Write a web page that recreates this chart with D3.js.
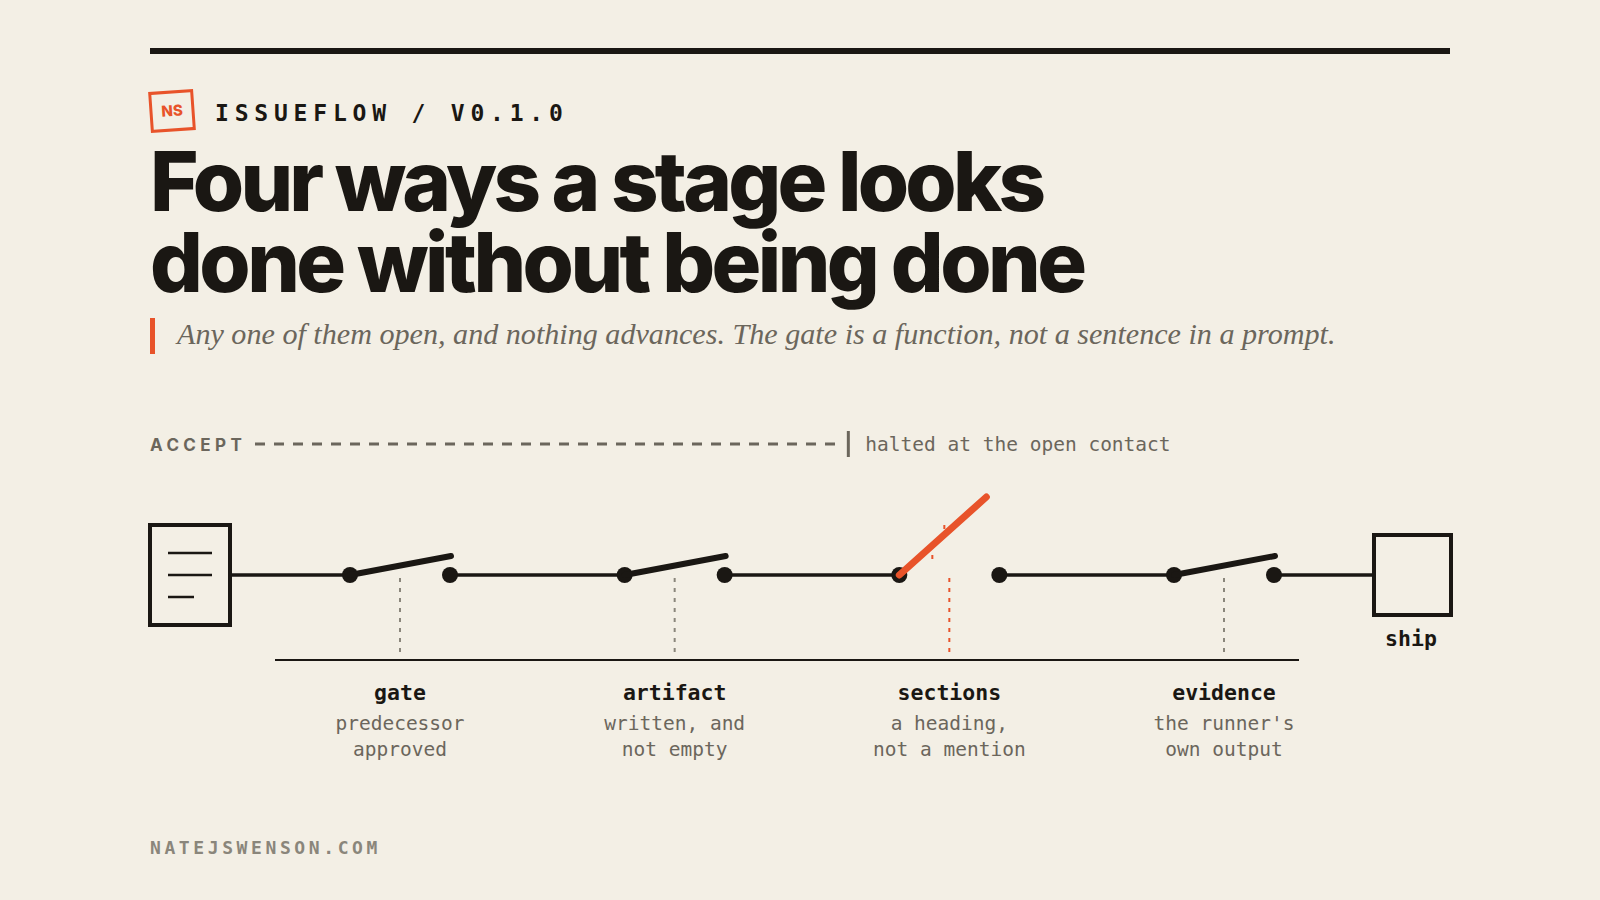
<!DOCTYPE html>
<html>
<head>
<meta charset="utf-8">
<script src="https://cdn.jsdelivr.net/npm/d3@7"></script>
<style>
  html, body { margin: 0; padding: 0; background: #f3efe5; }
  svg { display: block; }
</style>
</head>
<body>
<svg id="chart" width="1600" height="900"></svg>
<script>
'use strict';
// stages of the accept chain
var stages = ['gate', 'artifact', 'sections', 'evidence'];
var descTop = ['predecessor', 'written, and', 'a heading,', "the runner's"];
var descBottom = ['approved', 'not empty', 'not a mention', 'own output'];
var states = ['held', 'held', 'halted', 'held'];

var kicker = 'ISSUEFLOW / V0.1.0',
	titleLines = ['Four ways a stage looks', 'done without being done'],
	subtitle = 'Any one of them open, and nothing advances. The gate is a function, not a sentence in a prompt.',
	acceptLabel = 'ACCEPT',
	haltNote = 'halted at the open contact',
	endLabel = 'ship',
	footer = 'NATEJSWENSON.COM';

var ink = '#1a1713', orange = '#e8532a', grey = '#6b665c', faint = '#8a867b',
	mono = '"DejaVu Sans Mono", "Liberation Mono", monospace',
	sans = 'Inter, "Noto Sans", sans-serif';

var svg = d3.select('#chart');
svg.append('rect').attr('width', 1600).attr('height', 900).style('fill', '#f3efe5');

// fits a text to a width by letter spacing
function fitSpacing(sel, target) {
	var node = sel.node(), n = sel.text().length;
	var len = node.getComputedTextLength();
	sel.attr('letter-spacing', (target - len) / (n - 1));
}
function fitSize(sel, target, size) {
	var len = sel.node().getComputedTextLength();
	sel.style('font-size', (size * target / len) + 'px');
}

// header
svg.append('rect').attr('x', 150).attr('y', 48).attr('width', 1300).attr('height', 6).style('fill', ink);

var badge = svg.append('g').attr('transform', 'translate(172,111) rotate(-4)');
badge.append('rect').attr('x', -21).attr('y', -19).attr('width', 42).attr('height', 38)
	.style('fill', 'none').style('stroke', orange).style('stroke-width', 3);
badge.append('text').text('NS').attr('y', 5)
	.style('font-family', sans).style('font-weight', 800).style('font-size', '15px')
	.style('fill', orange).style('text-anchor', 'middle');

svg.append('text').text(kicker).attr('x', 215).attr('y', 121)
	.style('font-family', mono).style('font-weight', 700).style('font-size', '23px')
	.attr('letter-spacing', 5.8).style('fill', ink);

svg.selectAll('text.title').data(titleLines).enter().append('text')
	.attr('class', 'title')
	.text(function (d) { return d; })
	.attr('x', 150).attr('y', function (d, i) { return 211 + i * 81; })
	.style('font-family', sans).style('font-weight', 800).style('font-size', '83px')
	.style('fill', ink)
	.each(function (d, i) { fitSpacing(d3.select(this), [896, 937][i]); });

svg.append('rect').attr('x', 150).attr('y', 318).attr('width', 5).attr('height', 36).style('fill', orange);
var sub = svg.append('text').text(subtitle).attr('x', 177).attr('y', 344)
	.style('font-family', '"Liberation Serif", serif').style('font-style', 'italic')
	.style('font-size', '28px').style('fill', grey);
fitSize(sub, 1159, 28);

// circuit
var x = d3.scalePoint().domain(stages).range([400, 1224]);
var wireY = 575, gap = 100, axisY = 660;

var circuit = svg.append('g').attr('id', 'circuit');

// accept trace, ending at the halted stage
var haltX = x(stages[states.indexOf('halted')]) - 101;
circuit.append('text').text(acceptLabel).attr('x', 150).attr('y', 451)
	.style('font-family', sans).style('font-weight', 700).style('font-size', '17px')
	.attr('letter-spacing', 4.4).style('fill', grey);
circuit.append('line').attr('x1', 255).attr('x2', haltX - 6).attr('y1', 444).attr('y2', 444)
	.style('stroke', grey).style('stroke-width', 3).style('stroke-dasharray', '10 9');
circuit.append('line').attr('x1', haltX).attr('x2', haltX).attr('y1', 431).attr('y2', 457)
	.style('stroke', grey).style('stroke-width', 3);
circuit.append('text').text(haltNote).attr('x', haltX + 17).attr('y', 451)
	.style('font-family', mono).style('font-size', '19.5px').style('fill', grey);

// wire segments between contacts
var pins = [231].concat(...stages.map(function (s) { return [x(s) - gap / 2, x(s) + gap / 2]; }), [1374]);
circuit.append('g').selectAll('line').data(d3.range(0, pins.length, 2)).enter().append('line')
	.attr('x1', function (i) { return pins[i]; }).attr('x2', function (i) { return pins[i + 1]; })
	.attr('y1', wireY).attr('y2', wireY)
	.style('stroke', ink).style('stroke-width', 3.5);

// input document
var doc = circuit.append('g');
doc.append('rect').attr('x', 150).attr('y', 525).attr('width', 80).attr('height', 100)
	.style('fill', 'none').style('stroke', ink).style('stroke-width', 4);
doc.selectAll('line').data([[168, 212, 553], [168, 212, 575], [168, 194, 597]]).enter().append('line')
	.attr('x1', function (d) { return d[0]; }).attr('x2', function (d) { return d[1]; })
	.attr('y1', function (d) { return d[2]; }).attr('y2', function (d) { return d[2]; })
	.style('stroke', ink).style('stroke-width', 2.5);

// ship box
circuit.append('rect').attr('x', 1374).attr('y', 535).attr('width', 77).attr('height', 80)
	.style('fill', 'none').style('stroke', ink).style('stroke-width', 4);
circuit.append('text').text(endLabel).attr('x', 1411).attr('y', 646)
	.style('font-family', mono).style('font-weight', 700).style('font-size', '21.5px')
	.style('fill', ink).style('text-anchor', 'middle');

// leaders and axis
circuit.append('g').selectAll('line').data(stages).enter().append('line')
	.attr('x1', function (d) { return x(d); }).attr('x2', function (d) { return x(d); })
	.attr('y1', wireY + 3).attr('y2', axisY - 4)
	.style('stroke', function (d, i) { return states[i] === 'halted' ? orange : faint; })
	.style('stroke-width', 2).style('stroke-dasharray', '4 6');
circuit.append('line').attr('x1', 275).attr('x2', 1299).attr('y1', axisY).attr('y2', axisY)
	.style('stroke', ink).style('stroke-width', 2);

// switches
var sw = circuit.append('g').selectAll('g').data(stages).enter().append('g')
	.attr('transform', function (d) { return 'translate(' + x(d) + ',' + wireY + ')'; });
sw.append('circle').attr('cx', -gap / 2).attr('r', 8).style('fill', ink);
sw.append('circle').attr('cx', gap / 2).attr('r', 8).style('fill', ink);
sw.append('line')
	.attr('x1', -gap / 2).attr('y1', 0)
	.attr('x2', function (d, i) { return states[i] === 'halted' ? 37 : 51; })
	.attr('y2', function (d, i) { return states[i] === 'halted' ? -78 : -19; })
	.style('stroke', function (d, i) { return states[i] === 'halted' ? orange : ink; })
	.style('stroke-width', function (d, i) { return states[i] === 'halted' ? 7 : 6; })
	.style('stroke-linecap', 'round');
sw.filter(function (d, i) { return states[i] === 'halted'; })
	.selectAll('rect.spark').data([[-6, -50], [-18, -20]]).enter().append('rect')
	.attr('x', function (d) { return d[0]; }).attr('y', function (d) { return d[1]; })
	.attr('width', 2).attr('height', 4).style('fill', orange);

// labels
var lab = circuit.append('g').selectAll('g').data(stages).enter().append('g')
	.attr('transform', function (d) { return 'translate(' + x(d) + ',0)'; })
	.style('text-anchor', 'middle').style('font-family', mono);
lab.append('text').text(function (d) { return d; }).attr('y', 700)
	.style('font-weight', 700).style('font-size', '21.5px').style('fill', ink);
lab.append('text').text(function (d, i) { return descTop[i]; }).attr('y', 730)
	.style('font-size', '19.5px').style('fill', grey);
lab.append('text').text(function (d, i) { return descBottom[i]; }).attr('y', 756)
	.style('font-size', '19.5px').style('fill', grey);

// footer
svg.append('text').text(footer).attr('x', 150).attr('y', 854)
	.style('font-family', mono).style('font-weight', 700).style('font-size', '18px')
	.attr('letter-spacing', 3.6).style('fill', faint);
</script>
</body>
</html>
